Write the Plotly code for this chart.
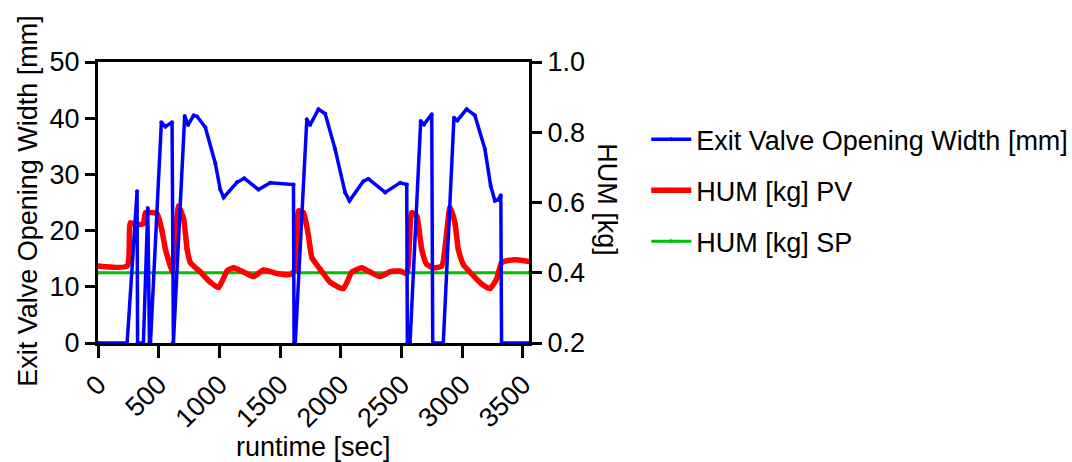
import plotly.graph_objects as go

# Exit valve opening width [mm] over runtime [sec]
valve_time = [0, 240, 322, 326, 374, 410, 424, 432, 522, 555, 610, 615, 621,
              714, 742, 788, 816, 884, 966, 1007, 1035, 1145, 1205, 1322, 1419,
              1610, 1615, 1625, 1720, 1747, 1816, 1871, 1953, 2035, 2071, 2186,
              2227, 2365, 2488, 2543, 2548, 2570, 2658, 2685, 2749, 2757, 2844,
              2932, 2960, 3036, 3104, 3187, 3234, 3269, 3296, 3318, 3324, 3550]
valve_width = [0, 0, 27, 0, 0, 24, 0, 0, 39.3, 38.5, 39.3, 0, 0,
               40.4, 38.8, 40.5, 40.3, 38.4, 32, 27.3, 25.9, 28.6, 29.3, 27.3, 28.5,
               28.2, 0, 0, 39.8, 38.8, 41.6, 40.8, 34.5, 26.8, 25.3, 28.8,
               29.2, 26.8, 28.5, 28.2, 0, 0, 39.5, 38.9, 40.7, 0, 0,
               40.1, 39.6, 41.6, 40.5, 34.5, 28, 25.3, 25.5, 26.3, 0, 0]

# HUM process value [kg]
hum_time = [0, 240, 267, 322, 374, 391, 487, 528, 555, 596, 610, 664, 706, 734,
            761, 843, 925, 993, 1063, 1117, 1199, 1281, 1364, 1474, 1583, 1624,
            1651, 1692, 1734, 1762, 1830, 1912, 2021, 2091, 2173, 2241, 2323,
            2406, 2488, 2543, 2584, 2625, 2666, 2707, 2762, 2831, 2899, 2940,
            2967, 3008, 3091, 3160, 3228, 3283, 3324, 3365, 3447, 3550]
hum_pv = [0.419, 0.419, 0.542, 0.536, 0.540, 0.571, 0.568, 0.518, 0.467, 0.419,
          0.405, 0.590, 0.552, 0.467, 0.429, 0.402, 0.373, 0.358, 0.405, 0.414,
          0.402, 0.389, 0.408, 0.398, 0.395, 0.408, 0.576, 0.571, 0.504, 0.443,
          0.410, 0.373, 0.355, 0.402, 0.414, 0.402, 0.389, 0.403, 0.405, 0.398,
          0.571, 0.562, 0.467, 0.424, 0.414, 0.419, 0.586, 0.542, 0.467, 0.424,
          0.392, 0.368, 0.355, 0.382, 0.429, 0.434, 0.437, 0.432]

# HUM set point [kg]
sp_time = [0, 3550]
hum_sp = [0.4, 0.4]

x_ticks = [0, 500, 1000, 1500, 2000, 2500, 3000, 3500]
left_ticks = [0, 10, 20, 30, 40, 50]
right_ticks = [0.2, 0.4, 0.6, 0.8, 1.0]

FONT = "Liberation Sans, Arial, sans-serif"
FS = 27

fig = go.Figure()

fig.add_trace(go.Scatter(
    x=sp_time, y=hum_sp, name="HUM [kg] SP", yaxis="y",
    mode="lines+markers", line=dict(color="#00C000", width=3),
    marker=dict(size=4, color="#00C000"), legendrank=3, legendgroup="c"))

fig.add_trace(go.Scatter(
    x=hum_time, y=hum_pv, name="HUM [kg] PV", yaxis="y",
    mode="lines+markers", line=dict(color="#FF0000", width=5.5, shape="spline", smoothing=0.5),
    marker=dict(size=5, color="#FF0000"), legendrank=2, legendgroup="b"))

fig.add_trace(go.Scatter(
    x=valve_time, y=valve_width, name="Exit Valve Opening Width [mm]", yaxis="y2",
    mode="lines+markers", line=dict(color="#0000FF", width=3.5),
    marker=dict(size=4, color="#0000FF"), legendrank=1, legendgroup="a"))

axis_common = dict(showline=True, linewidth=3, linecolor="black", ticks="outside",
                   tickwidth=2.5, tickcolor="black", showgrid=False, zeroline=False,
                   automargin=False,
                   tickfont=dict(family=FONT, size=FS, color="black"))

fig.update_layout(
    width=1072, height=462,
    margin=dict(l=97.5, r=542.7, t=61.5, b=118.5, autoexpand=False),
    paper_bgcolor="white", plot_bgcolor="white",
    font=dict(family=FONT, size=FS, color="black"),
    xaxis=dict(range=[0, 3550], tickvals=x_ticks, tickangle=-45, ticklen=12,
               mirror=True, **axis_common),
    yaxis=dict(range=[0.2, 1.0], tickvals=right_ticks, tickformat=".1f",
               side="right", ticklen=10, **axis_common),
    yaxis2=dict(range=[0, 50], tickvals=left_ticks, side="left", overlaying="y",
                anchor="x", ticklen=10, **axis_common),
    showlegend=True,
    legend=dict(x=1.272, y=0.811, xanchor="left", yanchor="top", itemwidth=40,
                font=dict(family=FONT, size=FS, color="black"),
                tracegroupgap=13, bgcolor="rgba(0,0,0,0)"),
    annotations=[
        dict(text="Exit Valve Opening Width [mm]", textangle=-90, xref="paper", yref="paper",
             x=-0.163, y=0.505, xanchor="center", yanchor="middle", showarrow=False,
             font=dict(family=FONT, size=FS)),
        dict(text="HUM [kg]", textangle=90, xref="paper", yref="paper",
             x=1.182, y=0.51, xanchor="center", yanchor="middle", showarrow=False,
             font=dict(family=FONT, size=FS)),
        dict(text="runtime [sec]", xref="paper", yref="paper",
             x=0.499, y=-0.371, xanchor="center", yanchor="middle", showarrow=False,
             font=dict(family=FONT, size=FS)),
    ],
)

fig.write_html("out.html")
